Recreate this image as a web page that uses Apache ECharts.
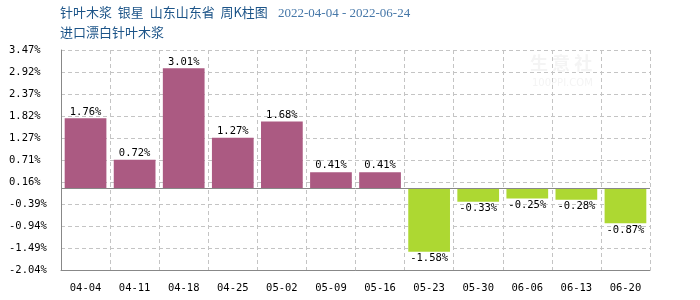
<!DOCTYPE html>
<html>
<head>
<meta charset="utf-8">
<script src="https://cdn.jsdelivr.net/npm/echarts@6/dist/echarts.min.js"></script>
<style>html,body{margin:0;padding:0;background:#fff;}#c{width:700px;height:300px;}</style>
</head>
<body>
<div id="c"></div>
<script>
var categories = ['04-04','04-11','04-18','04-25','05-02','05-09','05-16','05-23','05-30','06-06','06-13','06-20'];
var values = [1.76, 0.72, 3.01, 1.27, 1.68, 0.41, 0.41, -1.58, -0.33, -0.25, -0.28, -0.87];
var yTickLabels = ['-2.04','-1.49','-0.94','-0.39','0.16','0.71','1.27','1.82','2.37','2.92','3.47'];
var titleMain = '针叶木浆 银星 山东山东省 周K柱图';
var titleDate = '2022-04-04 - 2022-06-24';
var subTitle = '进口漂白针叶木浆';

var POS = '#ab5a82', NEG = '#add832';
var mono = 'DejaVu Sans Mono';
var yTicks = yTickLabels.map(Number);

var chart = echarts.init(document.getElementById('c'), null, {renderer: 'canvas'});
chart.setOption({
  animation: false,
  backgroundColor: '#fff',
  graphic: [
    {type: 'text', left: 60, top: 6, style: {text: titleMain.replace(/ /g, '  '), font: '13px "Noto Sans CJK SC"', fill: '#1c5488'}},
    {type: 'text', left: 278, top: 7, style: {text: titleDate, font: '13px "Liberation Serif"', fill: '#4677a8'}},
    {type: 'text', left: 60, top: 26, style: {text: subTitle, font: '13px "Noto Sans CJK SC"', fill: '#1c5488'}},
    {type: 'text', left: 530, top: 54, z: -1, style: {text: '生 意 社', font: 'bold 18px "Noto Sans CJK SC"', fill: '#f4f4f4'}},
    {type: 'text', left: 532, top: 78, z: -1, style: {text: '100PPI.COM', font: '10px "DejaVu Sans"', fill: '#f4f4f4'}}
  ],
  grid: {left: 61, right: 50, top: 50, bottom: 30},
  xAxis: {
    type: 'category',
    data: categories,
    axisLine: {onZero: false, lineStyle: {color: '#888', width: 1}},
    axisTick: {show: false},
    axisLabel: {margin: 13, color: '#000', fontFamily: mono, fontSize: 10.5, interval: 0},
    splitLine: {show: true, interval: 0, lineStyle: {color: '#c4c4c4', type: [4, 3]}}
  },
  yAxis: {
    type: 'value',
    min: -2.04,
    max: 3.47,
    axisLine: {show: true, lineStyle: {color: '#888', width: 1}},
    axisTick: {show: false, customValues: yTicks},
    axisLabel: {
      customValues: yTicks,
      align: 'left', margin: 52, color: '#000', fontFamily: mono, fontSize: 10.5,
      formatter: function (v) { return v.toFixed(2) + '%'; }
    },
    splitLine: {show: true, lineStyle: {color: '#c4c4c4', type: [4, 3]}}
  },
  series: [{
    type: 'bar',
    barWidth: '85%',
    data: values.map(function (v) {
      return {
        value: v,
        itemStyle: {color: v >= 0 ? POS : NEG},
        label: {position: v >= 0 ? 'top' : 'bottom'}
      };
    }),
    label: {
      show: true, distance: 1, color: '#000', fontFamily: mono, fontSize: 10.5,
      formatter: function (p) { return p.value.toFixed(2) + '%'; }
    },
    markLine: {
      silent: true, symbol: 'none', label: {show: false},
      lineStyle: {color: '#888', type: 'solid', width: 1},
      data: [{yAxis: 0}]
    }
  }]
});
</script>
</body>
</html>
